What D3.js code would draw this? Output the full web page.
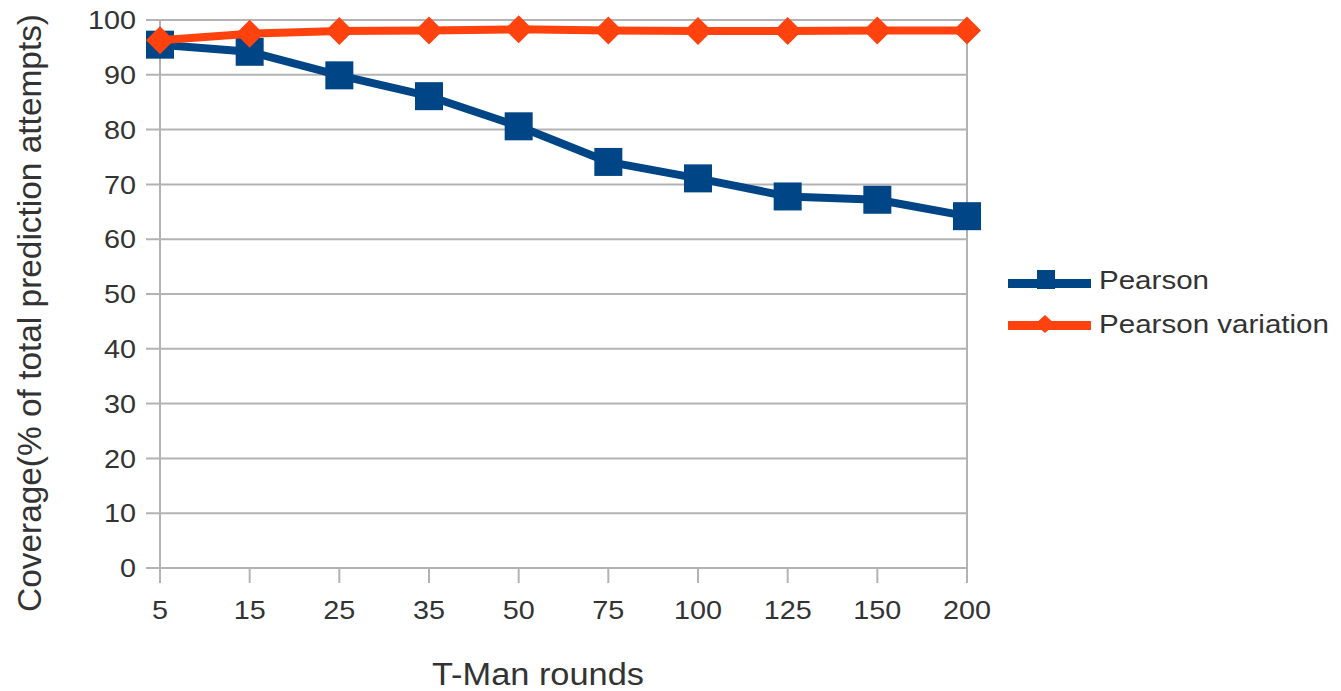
<!DOCTYPE html>
<html>
<head>
<meta charset="utf-8">
<script src="https://cdn.jsdelivr.net/npm/d3@7"></script>
<style>
  html, body { margin: 0; padding: 0; background: #fff; }
  svg { display: block; font-family: "Liberation Sans", Arial, sans-serif; }
</style>
</head>
<body>
<svg id="chart" width="1341" height="691"></svg>
<script>
// Categories (T-Man rounds) and coverage series
const rounds = ["5", "15", "25", "35", "50", "75", "100", "125", "150", "200"];
const pearson = [95.5, 94.2, 89.9, 86.1, 80.6, 74.1, 71.1, 67.8, 67.2, 64.2];
const pearsonVariation = [96.3, 97.5, 98.0, 98.1, 98.3, 98.1, 98.0, 98.0, 98.1, 98.1];
const yTicks = [0, 10, 20, 30, 40, 50, 60, 70, 80, 90, 100];
const seriesNames = ["Pearson", "Pearson variation"];

const svg = d3.select("#chart");
const plotLeft = 160, plotRight = 967, plotTop = 20, plotBottom = 568;

const x = d3.scalePoint().domain(rounds).range([plotLeft, plotRight]);
const y = d3.scaleLinear().domain([0, 100]).range([plotBottom, plotTop]);

const grid = "#b3b3b3";
const textColor = "#333333";
const digitWidth = 16;

// horizontal gridlines
svg.append("g").selectAll("line").data(yTicks).join("line")
  .attr("x1", plotLeft - 14).attr("x2", plotRight)
  .attr("y1", d => y(d)).attr("y2", d => y(d))
  .attr("stroke", grid).attr("stroke-width", 2);

// vertical borders at first and last category
svg.append("g").selectAll("line").data([rounds[0], rounds[rounds.length - 1]]).join("line")
  .attr("x1", d => x(d)).attr("x2", d => x(d))
  .attr("y1", plotTop).attr("y2", plotBottom + 15)
  .attr("stroke", grid).attr("stroke-width", 2);

// x tick marks
svg.append("g").selectAll("line").data(rounds).join("line")
  .attr("x1", d => x(d)).attr("x2", d => x(d))
  .attr("y1", plotBottom).attr("y2", plotBottom + 15)
  .attr("stroke", grid).attr("stroke-width", 2);

// y tick labels
svg.append("g").selectAll("text").data(yTicks).join("text")
  .attr("x", 136).attr("y", d => y(d))
  .attr("dy", "0.35em").attr("text-anchor", "end")
  .attr("font-size", 26).attr("fill", textColor)
  .attr("textLength", d => String(d).length * digitWidth)
  .attr("lengthAdjust", "spacingAndGlyphs")
  .text(d => d);

// x tick labels
svg.append("g").selectAll("text").data(rounds).join("text")
  .attr("x", d => x(d)).attr("y", 619)
  .attr("text-anchor", "middle")
  .attr("font-size", 26).attr("fill", textColor)
  .attr("textLength", d => d.length * digitWidth)
  .attr("lengthAdjust", "spacingAndGlyphs")
  .text(d => d);

// axis titles
svg.append("text")
  .attr("x", 538).attr("y", 685)
  .attr("text-anchor", "middle").attr("font-size", 31).attr("fill", textColor)
  .attr("textLength", 212).attr("lengthAdjust", "spacingAndGlyphs")
  .text("T-Man rounds");

svg.append("text")
  .attr("transform", "translate(41,313) rotate(-90)")
  .attr("text-anchor", "middle").attr("font-size", 33).attr("fill", textColor)
  .attr("textLength", 598).attr("lengthAdjust", "spacingAndGlyphs")
  .text("Coverage(% of total prediction attempts)");

const blue = "#004586", orange = "#ff420e";
const line = d3.line().x((d, i) => x(rounds[i])).y(d => y(d));

// Pearson series
svg.append("path").datum(pearson)
  .attr("d", line).attr("fill", "none")
  .attr("stroke", blue).attr("stroke-width", 8).attr("stroke-linejoin", "round");
svg.append("g").selectAll("rect").data(pearson).join("rect")
  .attr("x", (d, i) => x(rounds[i]) - 14).attr("y", d => y(d) - 14)
  .attr("width", 28).attr("height", 28).attr("fill", blue);

// Pearson variation series
const diamond = (cx, cy, rx, ry) => `M${cx},${cy - ry}L${cx + rx},${cy}L${cx},${cy + ry}L${cx - rx},${cy}Z`;
svg.append("path").datum(pearsonVariation)
  .attr("d", line).attr("fill", "none")
  .attr("stroke", orange).attr("stroke-width", 8).attr("stroke-linejoin", "round");
svg.append("g").selectAll("path").data(pearsonVariation).join("path")
  .attr("d", (d, i) => diamond(x(rounds[i]), y(d), 14, 14))
  .attr("fill", orange);

// legend
const legend = svg.append("g");
const legendRows = [
  { name: seriesNames[0], color: blue, marker: "square", lineY: 283.5, textY: 289, width: 110 },
  { name: seriesNames[1], color: orange, marker: "diamond", lineY: 325.5, textY: 333, width: 230 }
];
legendRows.forEach(r => {
  legend.append("line")
    .attr("x1", 1008).attr("x2", 1091).attr("y1", r.lineY).attr("y2", r.lineY)
    .attr("stroke", r.color).attr("stroke-width", 9);
  if (r.marker === "square") {
    legend.append("rect").attr("x", 1037).attr("y", 270)
      .attr("width", 18).attr("height", 19).attr("fill", r.color);
  } else {
    legend.append("path").attr("d", diamond(1045, 324, 10, 9)).attr("fill", r.color);
  }
  legend.append("text")
    .attr("x", 1099).attr("y", r.textY)
    .attr("font-size", 26).attr("fill", textColor)
    .attr("textLength", r.width).attr("lengthAdjust", "spacingAndGlyphs")
    .text(r.name);
});
</script>
</body>
</html>
